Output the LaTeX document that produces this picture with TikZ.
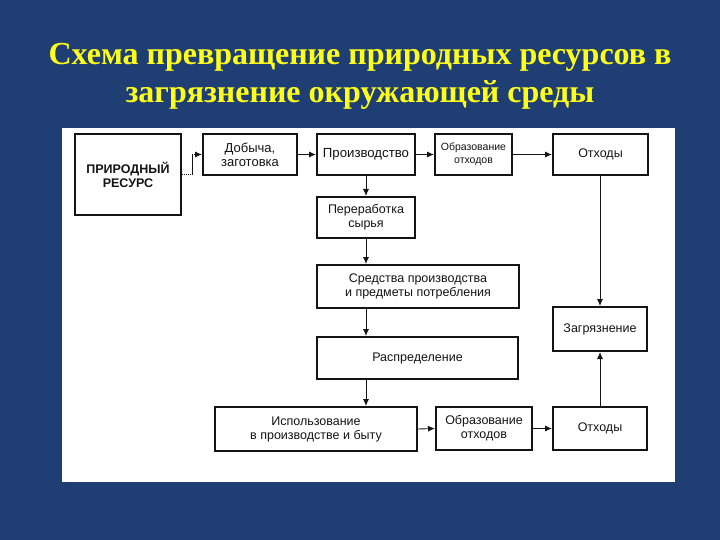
\documentclass[tikz,border=0pt]{standalone}
\usepackage{fontspec}
\setmainfont{Liberation Serif}
\newfontfamily\boxfont{Liberation Sans}
\usetikzlibrary{arrows.meta}
\definecolor{slidebg}{HTML}{1F3F74}
\definecolor{titleyellow}{HTML}{FFFF1A}
\definecolor{ink}{HTML}{141414}
\tikzset{
  stepbox/.style={draw=ink, line width=2pt, fill=white, inner sep=0pt,
    align=center, font=\boxfont\fontsize{12.5}{14}\selectfont, text=ink},
  flow/.style={draw=ink, line width=0.9pt, -{Latex[length=7pt,width=6pt]}},
}
\begin{document}
\begin{tikzpicture}[x=1pt,y=-1pt]
\fill[slidebg] (0,0) rectangle (720,540);
\useasboundingbox (0,0) rectangle (720,540);
\fill[white] (62,128) rectangle (675,482);
\node[font=\bfseries\fontsize{32}{38}\selectfont, text=titleyellow, align=center] (title) at (360,76)
  {Схема превращение природных ресурсов в\\загрязнение окружающей среды};

\node[stepbox, minimum width=106, minimum height=81, font=\boxfont\bfseries\fontsize{12.5}{14}\selectfont] (res) at (128,174.5) {ПРИРОДНЫЙ\\РЕСУРС};
\node[stepbox, minimum width=94, minimum height=41, font=\boxfont\fontsize{13}{14}\selectfont] (dob) at (250,154.5) {Добыча,\\заготовка};
\node[stepbox, minimum width=98, minimum height=41, font=\boxfont\fontsize{13.2}{14}\selectfont] (proiz) at (366,154.5) {Производство};
\node[stepbox, minimum width=77, minimum height=41, font=\boxfont\fontsize{10.5}{13}\selectfont] (obr1) at (473.5,154.5) {Образование\\отходов};
\node[stepbox, minimum width=95, minimum height=41] (oth1) at (600.5,154.5) {Отходы};
\node[stepbox, minimum width=98, minimum height=41] (pere) at (366,217.5) {Переработка\\сырья};
\node[stepbox, minimum width=202, minimum height=43] (sred) at (418,286.5) {Средства производства\\и предметы потребления};
\node[stepbox, minimum width=201, minimum height=42] (rasp) at (417.5,358) {Распределение};
\node[stepbox, minimum width=202, minimum height=44] (isp) at (316,429) {Использование\\в производстве и быту};
\node[stepbox, minimum width=96, minimum height=43] (obr2) at (484,428.5) {Образование\\отходов};
\node[stepbox, minimum width=94, minimum height=43] (oth2) at (600,428.5) {Отходы};
\node[stepbox, minimum width=94, minimum height=44] (zag) at (600,329) {Загрязнение};

\coordinate (c1) at (192,174);
\coordinate (c2) at (192,154.5);
\draw[ink, line width=0.9pt, densely dotted] (res.east |- c1) -- (c1);
\draw[ink, line width=0.9pt] (c1) -- (c2);
\draw[flow, densely dotted] (c2) -- (dob.west);

\draw[flow] (dob.east) -- (proiz.west);
\draw[flow] (proiz.east) -- (obr1.west);
\draw[flow] (obr1.east) -- (oth1.west);
\draw[flow] (proiz.south) -- (pere.north);
\draw[flow] (pere.south) -- (pere.south |- sred.north);
\draw[flow] (pere.south |- sred.south) -- (pere.south |- rasp.north);
\draw[flow] (pere.south |- rasp.south) -- (pere.south |- isp.north);
\draw[flow] (isp.east) -- (obr2.west);
\draw[flow] (obr2.east) -- (oth2.west);
\draw[flow] (oth1.south -| zag.north) -- (zag.north);
\draw[flow] (oth2.north) -- (zag.south);
\end{tikzpicture}
\end{document}
